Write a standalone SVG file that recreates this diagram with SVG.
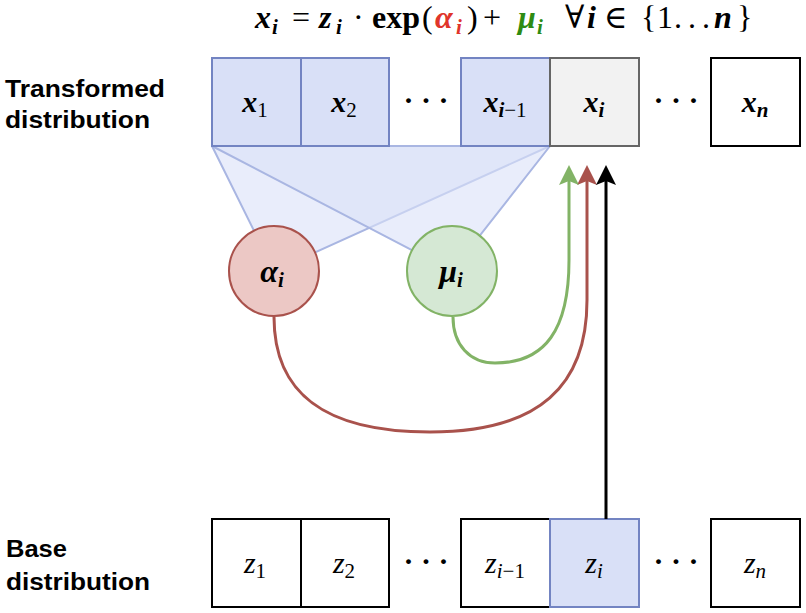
<svg xmlns="http://www.w3.org/2000/svg" width="806" height="613" viewBox="0 0 806 613">
<defs>
<style>
.lbl{font-family:"Liberation Sans",Arial,sans-serif;font-weight:bold;font-size:23px;fill:#000}
.m{font-family:"Liberation Serif","DejaVu Serif",serif;font-size:32px;fill:#000}
.bi{font-style:italic;font-weight:bold}
.it{font-style:italic}
.b{font-weight:bold}
.sub{font-size:21px}
.bl{fill:#d9e0f7;stroke:#7384c2;stroke-width:2}
.wh{fill:#fff;stroke:#000;stroke-width:2}
.gr{fill:#f2f2f2;stroke:#666;stroke-width:2}
.tri{fill:#dae1f8;fill-opacity:0.6;stroke:#a9b6e2;stroke-width:2;stroke-linejoin:round}
.cl{text-anchor:middle}
.dots{font-family:"Liberation Serif","DejaVu Serif",serif;font-size:30px;font-weight:bold;fill:#000;text-anchor:middle}
</style>
<marker id="ag" viewBox="0 0 20 20" refX="4" refY="10" markerWidth="20" markerHeight="20" markerUnits="userSpaceOnUse" orient="auto"><path d="M0,0 L20,10 L0,20 L4,10 z" fill="#82b366"/></marker>
<marker id="ar" viewBox="0 0 20 20" refX="4" refY="10" markerWidth="20" markerHeight="20" markerUnits="userSpaceOnUse" orient="auto"><path d="M0,0 L20,10 L0,20 L4,10 z" fill="#a9524c"/></marker>
<marker id="ak" viewBox="0 0 20 20" refX="4" refY="10" markerWidth="20" markerHeight="20" markerUnits="userSpaceOnUse" orient="auto"><path d="M0,0 L20,10 L0,20 L4,10 z" fill="#000"/></marker>
</defs>
<rect width="806" height="613" fill="#fff"/>

<g id="equation" class="m">
<text x="255" y="28" class="bi">x</text><text x="272" y="34" class="bi sub">i</text>
<text x="292" y="28">=</text>
<text x="319" y="28" class="bi">z</text><text x="336" y="34" class="bi sub">i</text>
<text x="353" y="28">·</text>
<text x="372" y="28" class="b" textLength="48" lengthAdjust="spacingAndGlyphs">exp</text>
<text x="422" y="28">(</text>
<text x="435" y="28" class="bi" style="fill:#e0352b">α</text><text x="456" y="34" class="bi sub" style="fill:#e0352b">i</text>
<text x="467" y="28">)</text>
<text x="483" y="28">+</text>
<text x="518" y="28" class="bi" style="fill:#2e8b12">μ</text><text x="537" y="34" class="bi sub" style="fill:#2e8b12">i</text>
<text x="565" y="28">∀</text>
<text x="587" y="28" class="bi">i</text>
<text x="604" y="28">∈</text>
<text x="641" y="28">{</text>
<text x="657" y="28">1</text>
<text x="674" y="28" textLength="36" lengthAdjust="spacing">...</text>
<text x="714" y="28" class="bi">n</text>
<text x="737" y="28">}</text>
</g>

<g id="label-transformed" class="lbl">
<text x="5" y="97" textLength="160" lengthAdjust="spacingAndGlyphs">Transformed</text>
<text x="5" y="128" textLength="145" lengthAdjust="spacingAndGlyphs">distribution</text>
</g>
<g id="label-base" class="lbl">
<text x="6" y="557" textLength="61" lengthAdjust="spacingAndGlyphs">Base</text>
<text x="6" y="590" textLength="144" lengthAdjust="spacingAndGlyphs">distribution</text>
</g>

<g id="triangles">
<polygon class="tri" points="212,146 550,146 274,271"/>
<polygon class="tri" points="212,146 550,146 452,271"/>
</g>

<g id="x1"><rect class="bl" x="212" y="58" width="89" height="88"/><text class="m bi cl" x="255" y="112" style="font-size:30px">x<tspan class="sub" dy="5" style="font-style:normal;font-weight:normal">1</tspan></text></g>
<g id="x2"><rect class="bl" x="301" y="58" width="88" height="88"/><text class="m bi cl" x="344" y="112" style="font-size:30px">x<tspan class="sub" dy="5" style="font-style:normal;font-weight:normal">2</tspan></text></g>
<g id="xdots1"><text class="dots" x="426" y="110">· · ·</text></g>
<g id="xim1"><rect class="bl" x="461" y="58" width="89" height="88"/><text class="m bi cl" x="505" y="112" style="font-size:30px">x<tspan class="sub" dy="5">i</tspan><tspan class="sub" style="font-style:normal;font-weight:normal">−1</tspan></text></g>
<g id="xi"><rect class="gr" x="550" y="58" width="89" height="88"/><text class="m bi cl" x="594" y="112" style="font-size:30px">x<tspan class="sub" dy="5">i</tspan></text></g>
<g id="xdots2"><text class="dots" x="676" y="110">· · ·</text></g>
<g id="xn"><rect class="wh" x="711" y="58" width="89" height="88"/><text class="m bi cl" x="755" y="112" style="font-size:30px">x<tspan class="sub" dy="5">n</tspan></text></g>

<g id="alpha"><circle cx="274" cy="271" r="45" fill="#ecc8c5" stroke="#a9524c" stroke-width="2"/><text class="m bi cl" x="272" y="282" style="font-size:32px">α<tspan class="sub" dy="5">i</tspan></text></g>
<g id="mu"><circle cx="452" cy="271" r="45" fill="#d5e8d4" stroke="#82b366" stroke-width="2"/><text class="m bi cl" x="451" y="282" style="font-size:32px">μ<tspan class="sub" dy="5">i</tspan></text></g>

<g id="z1"><rect class="wh" x="212" y="519" width="89" height="88"/><text class="m it cl" x="255" y="573" style="font-size:30px">z<tspan class="sub" dy="5" style="font-style:normal">1</tspan></text></g>
<g id="z2"><rect class="wh" x="301" y="519" width="88" height="88"/><text class="m it cl" x="344" y="573" style="font-size:30px">z<tspan class="sub" dy="5" style="font-style:normal">2</tspan></text></g>
<g id="zdots1"><text class="dots" x="426" y="571">· · ·</text></g>
<g id="zim1"><rect class="wh" x="461" y="519" width="89" height="88"/><text class="m it cl" x="505" y="573" style="font-size:30px">z<tspan class="sub" dy="5">i</tspan><tspan class="sub" style="font-style:normal">−1</tspan></text></g>
<g id="zi"><rect class="bl" x="550" y="519" width="89" height="88"/><text class="m it cl" x="594" y="573" style="font-size:30px">z<tspan class="sub" dy="5">i</tspan></text></g>
<g id="zdots2"><text class="dots" x="676" y="571">· · ·</text></g>
<g id="zn"><rect class="wh" x="711" y="519" width="89" height="88"/><text class="m it cl" x="755" y="573" style="font-size:30px">z<tspan class="sub" dy="5">n</tspan></text></g>

<g id="connectors" fill="none" stroke-width="3">
<path d="M274,317 C274,390 320,432 430,432 C540,432 587,385 587,300 L587,181" stroke="#a9524c" marker-end="url(#ar)"/>
<path d="M453,317 C453,345 470,363 495,363 C545,363 569,330 569,260 L569,181" stroke="#82b366" marker-end="url(#ag)"/>
<path d="M606,519 L606,181" stroke="#000" marker-end="url(#ak)"/>
</g>
</svg>
